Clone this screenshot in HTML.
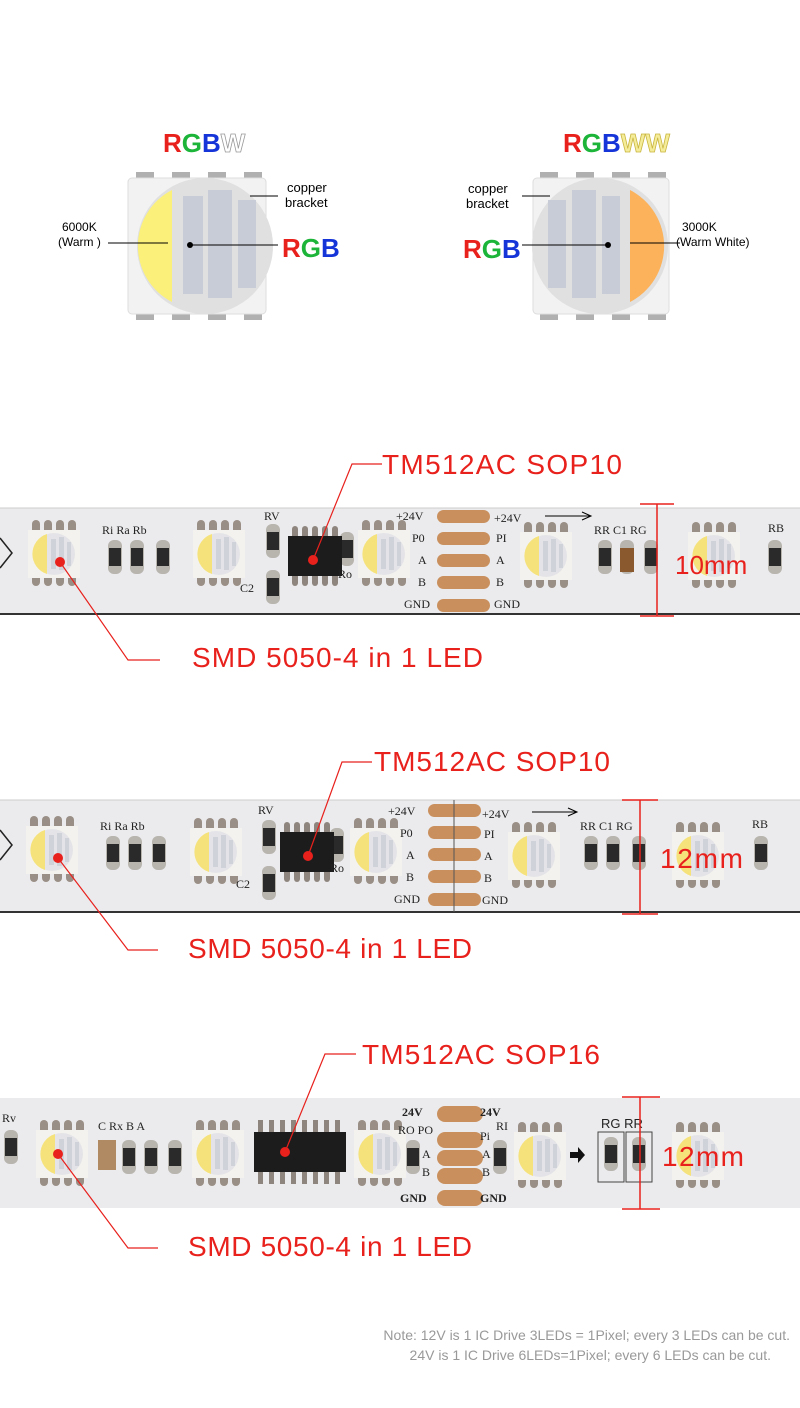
<!DOCTYPE html>
<html><head><meta charset="utf-8"><style>
html,body{margin:0;padding:0;background:#fff;}
svg{display:block;}
text{font-family:"Liberation Sans",sans-serif;}
.s{font-family:"Liberation Serif",serif;font-size:12px;fill:#222;}
.red{fill:#e8211d;font-size:28px;}
</style></head><body>
<svg width="800" height="1408" viewBox="0 0 800 1408" xmlns="http://www.w3.org/2000/svg">
<defs>
<g id="led">
  <rect x="4" y="0" width="8" height="14" rx="4" fill="#9a8f86"/><rect x="16" y="0" width="8" height="14" rx="4" fill="#9a8f86"/><rect x="28" y="0" width="8" height="14" rx="4" fill="#9a8f86"/><rect x="40" y="0" width="8" height="14" rx="4" fill="#9a8f86"/>
  <rect x="4" y="52" width="8" height="14" rx="4" fill="#9a8f86"/><rect x="16" y="52" width="8" height="14" rx="4" fill="#9a8f86"/><rect x="28" y="52" width="8" height="14" rx="4" fill="#9a8f86"/><rect x="40" y="52" width="8" height="14" rx="4" fill="#9a8f86"/>
  <rect x="0" y="10" width="52" height="48" fill="#f4f2ee"/>
  <circle cx="26" cy="34" r="21" fill="#e4e4e8"/>
  <path d="M19 14 A21 21 0 0 0 19 54 Z" fill="#f5e27a"/>
  <rect x="23" y="19" width="5" height="30" fill="#d0d2da"/><rect x="31" y="17" width="5" height="33" fill="#d0d2da"/><rect x="39" y="22" width="4" height="24" fill="#d0d2da"/>
</g>
<g id="res">
  <rect x="0" y="0" width="14" height="34" rx="6" fill="#b8b4ae"/>
  <rect x="1" y="8" width="12" height="18" fill="#2a2a2a"/>
</g>
<g id="pads">
  <rect x="0" y="0" width="53" height="13" rx="6.5" fill="#c9905e"/>
  <rect x="0" y="22" width="53" height="13" rx="6.5" fill="#c9905e"/>
  <rect x="0" y="44" width="53" height="13" rx="6.5" fill="#c9905e"/>
  <rect x="0" y="66" width="53" height="13" rx="6.5" fill="#c9905e"/>
  <rect x="0" y="89" width="53" height="13" rx="6.5" fill="#c9905e"/>
</g>
<g id="chip8">
  <g fill="#8e857e"><rect x="2" y="-10" width="6" height="14" rx="3"/><rect x="12" y="-10" width="6" height="14" rx="3"/><rect x="22" y="-10" width="6" height="14" rx="3"/><rect x="32" y="-10" width="6" height="14" rx="3"/><rect x="42" y="-10" width="6" height="14" rx="3"/>
  <rect x="2" y="36" width="6" height="14" rx="3"/><rect x="12" y="36" width="6" height="14" rx="3"/><rect x="22" y="36" width="6" height="14" rx="3"/><rect x="32" y="36" width="6" height="14" rx="3"/><rect x="42" y="36" width="6" height="14" rx="3"/></g>
  <rect x="-2" y="0" width="54" height="40" fill="#1c1c1c"/>
</g>
</defs>

<!-- Top left LED -->
<text x="163" y="152" font-size="26" font-weight="bold"><tspan fill="#e8211d">R</tspan><tspan fill="#1db43a">G</tspan><tspan fill="#1535d8">B</tspan><tspan fill="#fff" stroke="#999" stroke-width="0.8">W</tspan></text>
<g fill="#b0b0b0"><rect x="136" y="172" width="18" height="6"/><rect x="172" y="172" width="18" height="6"/><rect x="208" y="172" width="18" height="6"/><rect x="244" y="172" width="18" height="6"/>
<rect x="136" y="314" width="18" height="6"/><rect x="172" y="314" width="18" height="6"/><rect x="208" y="314" width="18" height="6"/><rect x="244" y="314" width="18" height="6"/></g>
<rect x="128" y="178" width="138" height="136" rx="4" fill="#f2f2f2" stroke="#ddd"/>
<circle cx="205" cy="246" r="68" fill="#e0e0e0"/>
<path d="M172 190 A63 63 0 0 0 172 302 Z" fill="#fbf07a"/>
<rect x="183" y="196" width="20" height="98" fill="#c8ccd6"/><rect x="208" y="190" width="24" height="108" fill="#c8ccd6"/><rect x="238" y="200" width="18" height="88" fill="#c8ccd6"/>
<line x1="108" y1="243" x2="168" y2="243" stroke="#000"/>
<line x1="190" y1="245" x2="278" y2="245" stroke="#000"/><circle cx="190" cy="245" r="3" fill="#000"/>
<line x1="250" y1="196" x2="278" y2="196" stroke="#000"/>
<text x="287" y="192" font-size="13" fill="#000">copper</text><text x="285" y="207" font-size="13" fill="#000">bracket</text>
<text x="62" y="231" font-size="12" fill="#000">6000K</text><text x="58" y="246" font-size="12" fill="#000">(Warm )</text>
<text x="282" y="257" font-size="26" font-weight="bold"><tspan fill="#e8211d">R</tspan><tspan fill="#1db43a">G</tspan><tspan fill="#1535d8">B</tspan></text>

<!-- Top right LED -->
<text x="563" y="152" font-size="26" font-weight="bold"><tspan fill="#e8211d">R</tspan><tspan fill="#1db43a">G</tspan><tspan fill="#1535d8">B</tspan><tspan fill="#f5ec9a" stroke="#c9b640" stroke-width="0.8">WW</tspan></text>
<g fill="#b0b0b0"><rect x="540" y="172" width="18" height="6"/><rect x="576" y="172" width="18" height="6"/><rect x="612" y="172" width="18" height="6"/><rect x="648" y="172" width="18" height="6"/>
<rect x="540" y="314" width="18" height="6"/><rect x="576" y="314" width="18" height="6"/><rect x="612" y="314" width="18" height="6"/><rect x="648" y="314" width="18" height="6"/></g>
<rect x="533" y="178" width="136" height="136" rx="4" fill="#f2f2f2" stroke="#ddd"/>
<circle cx="600" cy="246" r="68" fill="#e0e0e0"/>
<path d="M630 190 A63 63 0 0 1 630 302 Z" fill="#fbb25a"/>
<rect x="548" y="200" width="18" height="88" fill="#c8ccd6"/><rect x="572" y="190" width="24" height="108" fill="#c8ccd6"/><rect x="602" y="196" width="18" height="98" fill="#c8ccd6"/>
<line x1="522" y1="245" x2="608" y2="245" stroke="#000"/><circle cx="608" cy="245" r="3" fill="#000"/>
<line x1="522" y1="196" x2="550" y2="196" stroke="#000"/>
<line x1="630" y1="243" x2="680" y2="243" stroke="#000"/>
<text x="468" y="193" font-size="13" fill="#000">copper</text><text x="466" y="208" font-size="13" fill="#000">bracket</text>
<text x="682" y="231" font-size="12" fill="#000">3000K</text><text x="676" y="246" font-size="12" fill="#000">(Warm White)</text>
<text x="463" y="258" font-size="26" font-weight="bold"><tspan fill="#e8211d">R</tspan><tspan fill="#1db43a">G</tspan><tspan fill="#1535d8">B</tspan></text>

<!-- Strip 1 -->
<rect x="0" y="508" width="800" height="106" fill="#ebebed"/>
<line x1="0" y1="508" x2="800" y2="508" stroke="#ccc"/>
<line x1="0" y1="614" x2="800" y2="614" stroke="#333" stroke-width="2"/>
<path d="M0 538 L12 553 L0 568" fill="none" stroke="#222" stroke-width="1.5"/>
<use href="#led" x="28" y="520"/><use href="#led" x="193" y="520"/><use href="#led" x="358" y="520"/><use href="#led" x="520" y="522"/><use href="#led" x="688" y="522"/>
<use href="#res" x="108" y="540"/><use href="#res" x="130" y="540"/><use href="#res" x="156" y="540"/>
<use href="#res" x="266" y="524"/><use href="#res" x="266" y="570"/><use href="#res" x="340" y="532"/>
<use href="#chip8" x="290" y="536"/>
<use href="#res" x="598" y="540"/><use href="#res" x="620" y="540"/><use href="#res" x="644" y="540"/><use href="#res" x="768" y="540"/>
<rect x="620" y="548" width="14" height="24" fill="#8a5a2e"/>
<use href="#pads" x="437" y="510"/>
<text class="s" x="102" y="534">Ri Ra Rb</text><text class="s" x="264" y="520">RV</text><text class="s" x="240" y="592">C2</text><text class="s" x="338" y="578">Ro</text>
<text class="s" x="396" y="520">+24V</text><text class="s" x="412" y="542">P0</text><text class="s" x="418" y="564">A</text><text class="s" x="418" y="586">B</text><text class="s" x="404" y="608">GND</text>
<text class="s" x="494" y="522">+24V</text><text class="s" x="496" y="542">PI</text><text class="s" x="496" y="564">A</text><text class="s" x="496" y="586">B</text><text class="s" x="494" y="608">GND</text>
<line x1="545" y1="516" x2="590" y2="516" stroke="#000"/><path d="M582 512 L591 516 L582 520" fill="none" stroke="#000"/>
<text class="s" x="594" y="534">RR C1 RG</text><text class="s" x="768" y="532">RB</text>
<g stroke="#e8211d" stroke-width="1.5"><line x1="657" y1="504" x2="657" y2="616"/><line x1="640" y1="504" x2="674" y2="504"/><line x1="640" y1="616" x2="674" y2="616"/></g>
<text x="675" y="574" font-size="26" fill="#e8211d">10mm</text>
<g stroke="#e8211d" stroke-width="1.2" fill="none"><polyline points="382,464 352,464 313,560"/><polyline points="60,562 128,660 160,660"/></g>
<circle cx="313" cy="560" r="5" fill="#e8211d"/><circle cx="60" cy="562" r="5" fill="#e8211d"/>
<text class="red" x="382" y="474" textLength="240">TM512AC  SOP10</text>
<text class="red" x="192" y="667" textLength="291">SMD 5050-4 in 1 LED</text>

<!-- Strip 2 -->
<rect x="0" y="800" width="800" height="112" fill="#ebebed"/>
<line x1="0" y1="800" x2="800" y2="800" stroke="#ccc"/>
<line x1="0" y1="912" x2="800" y2="912" stroke="#333" stroke-width="2"/>
<path d="M0 830 L12 845 L0 860" fill="none" stroke="#222" stroke-width="1.5"/>
<use href="#led" x="26" y="816"/><use href="#led" x="190" y="818"/><use href="#led" x="350" y="818"/><use href="#led" x="508" y="822"/><use href="#led" x="672" y="822"/>
<use href="#res" x="106" y="836"/><use href="#res" x="128" y="836"/><use href="#res" x="152" y="836"/>
<use href="#res" x="262" y="820"/><use href="#res" x="262" y="866"/><use href="#res" x="330" y="828"/>
<use href="#chip8" x="282" y="832"/>
<use href="#res" x="584" y="836"/><use href="#res" x="606" y="836"/><use href="#res" x="632" y="836"/><use href="#res" x="754" y="836"/>
<use href="#pads" x="428" y="804"/>
<line x1="454" y1="800" x2="454" y2="912" stroke="#555"/>
<text class="s" x="100" y="830">Ri Ra Rb</text><text class="s" x="258" y="814">RV</text><text class="s" x="236" y="888">C2</text><text class="s" x="330" y="872">Ro</text>
<text class="s" x="388" y="815">+24V</text><text class="s" x="400" y="837">P0</text><text class="s" x="406" y="859">A</text><text class="s" x="406" y="881">B</text><text class="s" x="394" y="903">GND</text>
<text class="s" x="482" y="818">+24V</text><text class="s" x="484" y="838">PI</text><text class="s" x="484" y="860">A</text><text class="s" x="484" y="882">B</text><text class="s" x="482" y="904">GND</text>
<line x1="532" y1="812" x2="576" y2="812" stroke="#000"/><path d="M568 808 L577 812 L568 816" fill="none" stroke="#000"/>
<text class="s" x="580" y="830">RR C1 RG</text><text class="s" x="752" y="828">RB</text>
<g stroke="#e8211d" stroke-width="1.5"><line x1="640" y1="800" x2="640" y2="914"/><line x1="622" y1="800" x2="658" y2="800"/><line x1="622" y1="914" x2="658" y2="914"/></g>
<text class="red" x="660" y="868" textLength="83">12mm</text>
<g stroke="#e8211d" stroke-width="1.2" fill="none"><polyline points="372,762 342,762 308,856"/><polyline points="58,858 128,950 158,950"/></g>
<circle cx="308" cy="856" r="5" fill="#e8211d"/><circle cx="58" cy="858" r="5" fill="#e8211d"/>
<text class="red" x="374" y="771" textLength="236">TM512AC  SOP10</text>
<text class="red" x="188" y="958" textLength="284">SMD 5050-4 in 1 LED</text>

<!-- Strip 3 -->
<rect x="0" y="1098" width="800" height="110" fill="#ebebed"/>
<use href="#led" x="36" y="1120"/><use href="#led" x="192" y="1120"/><use href="#led" x="354" y="1120"/><use href="#led" x="514" y="1122"/><use href="#led" x="672" y="1122"/>
<use href="#res" x="4" y="1130"/><use href="#res" x="122" y="1140"/><use href="#res" x="144" y="1140"/><use href="#res" x="168" y="1140"/>
<rect x="98" y="1140" width="18" height="30" fill="#b08a62"/>
<g transform="translate(256,1132)"><g fill="#8e857e"><rect x="2" y="-12" width="5" height="14"/><rect x="13" y="-12" width="5" height="14"/><rect x="24" y="-12" width="5" height="14"/><rect x="35" y="-12" width="5" height="14"/><rect x="46" y="-12" width="5" height="14"/><rect x="57" y="-12" width="5" height="14"/><rect x="68" y="-12" width="5" height="14"/><rect x="79" y="-12" width="5" height="14"/>
<rect x="2" y="38" width="5" height="14"/><rect x="13" y="38" width="5" height="14"/><rect x="24" y="38" width="5" height="14"/><rect x="35" y="38" width="5" height="14"/><rect x="46" y="38" width="5" height="14"/><rect x="57" y="38" width="5" height="14"/><rect x="68" y="38" width="5" height="14"/><rect x="79" y="38" width="5" height="14"/></g>
<rect x="-2" y="0" width="92" height="40" fill="#1c1c1c"/></g>
<use href="#res" x="406" y="1140"/><use href="#res" x="493" y="1140"/><use href="#res" x="604" y="1137"/><use href="#res" x="632" y="1137"/>
<rect x="437" y="1106" width="46" height="16" rx="8" fill="#c9905e"/><rect x="437" y="1132" width="46" height="16" rx="8" fill="#c9905e"/><rect x="437" y="1150" width="46" height="16" rx="8" fill="#c9905e"/><rect x="437" y="1168" width="46" height="16" rx="8" fill="#c9905e"/><rect x="437" y="1190" width="46" height="16" rx="8" fill="#c9905e"/>
<text class="s" x="2" y="1122">Rv</text><text class="s" x="98" y="1130">C  Rx  B  A</text>
<text class="s" x="402" y="1116" font-weight="bold">24V</text><text class="s" x="398" y="1134" font-size="10">RO PO</text><text class="s" x="422" y="1158">A</text><text class="s" x="422" y="1176">B</text><text class="s" x="400" y="1202" font-weight="bold">GND</text>
<text class="s" x="480" y="1116" font-weight="bold">24V</text><text class="s" x="480" y="1140">Pi</text><text class="s" x="482" y="1158">A</text><text class="s" x="482" y="1176">B</text><text class="s" x="480" y="1202" font-weight="bold">GND</text>
<text class="s" x="496" y="1130">RI</text>
<path d="M570 1152 L578 1152 L578 1147 L585 1155 L578 1163 L578 1158 L570 1158 Z" fill="#111"/>
<text x="601" y="1128" font-size="13" fill="#222">RG  RR</text>
<rect x="598" y="1132" width="26" height="50" fill="none" stroke="#444"/><rect x="626" y="1132" width="26" height="50" fill="none" stroke="#444"/>
<g stroke="#e8211d" stroke-width="1.5"><line x1="640" y1="1097" x2="640" y2="1209"/><line x1="622" y1="1097" x2="660" y2="1097"/><line x1="622" y1="1209" x2="660" y2="1209"/></g>
<text class="red" x="662" y="1166" textLength="82">12mm</text>
<g stroke="#e8211d" stroke-width="1.2" fill="none"><polyline points="356,1054 325,1054 285,1152"/><polyline points="58,1154 128,1248 158,1248"/></g>
<circle cx="285" cy="1152" r="5" fill="#e8211d"/><circle cx="58" cy="1154" r="5" fill="#e8211d"/>
<text class="red" x="362" y="1064" textLength="238">TM512AC  SOP16</text>
<text class="red" x="188" y="1256" textLength="284">SMD 5050-4 in 1 LED</text>

<text x="790" y="1340" font-size="14" fill="#999" text-anchor="end">Note: 12V is 1 IC Drive 3LEDs = 1Pixel; every 3 LEDs can be cut.</text>
<text x="771" y="1360" font-size="14" fill="#999" text-anchor="end">24V is 1 IC Drive 6LEDs=1Pixel; every 6 LEDs can be cut.</text>
</svg>
</body></html>
